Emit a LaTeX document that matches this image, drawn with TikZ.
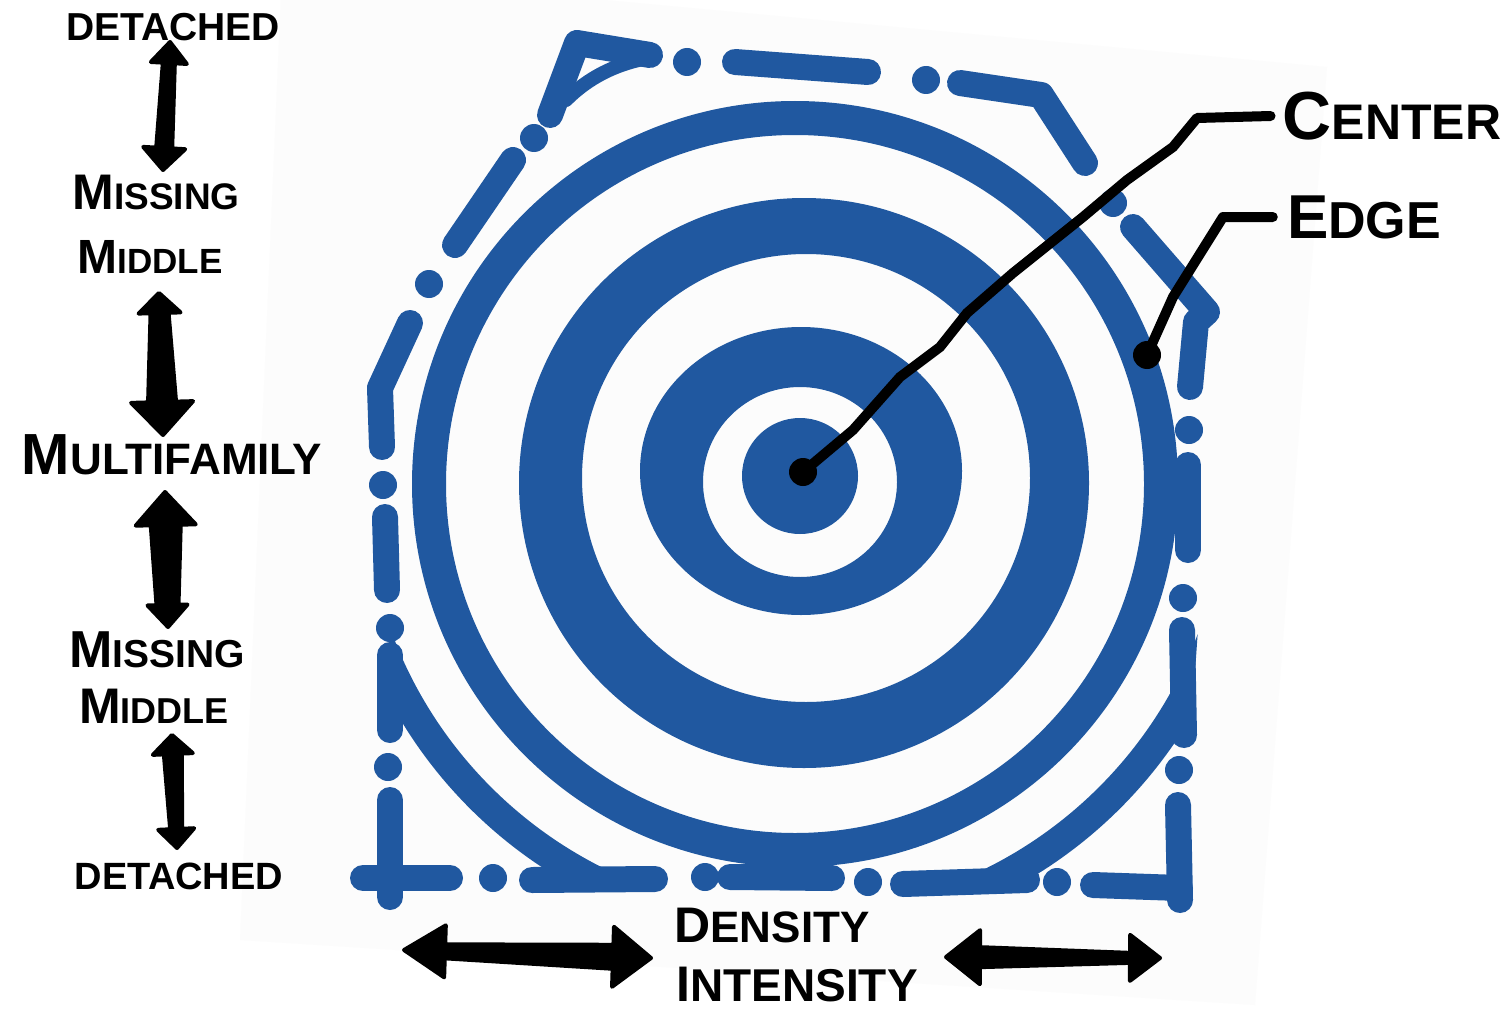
\documentclass[tikz,border=0pt]{standalone}
\usepackage{fontspec}
\setmainfont{Liberation Sans}
\usetikzlibrary{calc}
\definecolor{ringblue}{RGB}{32,88,160}
\definecolor{paper}{RGB}{252,252,252}
\newcommand{\tsz}[2]{{\fontsize{#1}{#1}\selectfont #2}}
% #1 tip a, #2 tip b, #3 shaft half width at a, #4 at b, #5 head half width at a, #6 head length at a, #7 head half width at b, #8 head length at b
\newcommand{\fatarrow}[8]{%
  \coordinate (#1-h) at ($(#1)!#6!(#2)$);
  \coordinate (#2-h) at ($(#2)!#8!(#1)$);
  \filldraw[fatarrowstyle] (#1) -- ($(#1-h)!#5!90:(#2)$) -- ($(#1-h)!#3!90:(#2)$)
    -- ($(#2-h)!#4!-90:(#1)$) -- ($(#2-h)!#7!-90:(#1)$) -- (#2)
    -- ($(#2-h)!#7!90:(#1)$) -- ($(#2-h)!#4!90:(#1)$)
    -- ($(#1-h)!#3!-90:(#2)$) -- ($(#1-h)!#5!-90:(#2)$) -- cycle;
}
\begin{document}
\begin{tikzpicture}[x=1pt,y=-1pt,
  lbl/.style={inner sep=0pt, text=black, font=\bfseries},
  fdash/.style={draw=ringblue, line width=26pt, line cap=round, line join=round},
  fdot/.style={fill=ringblue},
  leader/.style={draw=black, line width=10pt, line cap=round, line join=round},
  fatarrowstyle/.style={fill=black, draw=black, line width=4pt, line join=round}]

\useasboundingbox (0,0) rectangle (1509,1022);
\fill[white] (0,0) rectangle (1509,1022);
\fill[paper] (282,-30) -- (1327,67) -- (1255,1005) -- (240,940) -- cycle;

% rings
\fill[ringblue, even odd rule] (795,484) circle[radius=383pt] (795,484) circle[radius=349pt];
\fill[ringblue, even odd rule] (804,483) circle[radius=285pt] (806,478) circle[radius=224pt];
\fill[ringblue, even odd rule] (801,471) ellipse[x radius=161pt, y radius=144pt] (800,482) ellipse[x radius=97pt, y radius=95pt];
\fill[ringblue] (800,476) circle[radius=58pt];

% outer ring, visible only in the lower corners of the frame
\begin{scope}
  \clip (390,600) -- (1200,600) -- (1180,888) -- (390,880) -- cycle;
  \draw[ringblue, line width=30pt] (795,483) circle[radius=445pt];
\end{scope}
% small piece in the upper left corner
\draw[ringblue, line width=14pt, line cap=round] (648,58) .. controls (615,64) and (588,78) .. (566,100);

% dash-dot frame
\draw[fdash] (550,115) -- (577,43) -- (650,55);
\fill[fdot] (534,138) circle[radius=14pt];
\draw[fdash] (513,160) -- (455,245);
\fill[fdot] (429,284) circle[radius=14pt];
\draw[fdash] (410,323) -- (380,388) -- (382,447);
\fill[fdot] (383,485) circle[radius=14pt];
\draw[fdash] (385,517) -- (387,590);
\fill[fdot] (390,628) circle[radius=14pt];
\draw[fdash] (390,655) -- (390,730);
\fill[fdot] (388,767) circle[radius=14pt];
\draw[fdash] (390,800) -- (390,897);
\draw[fdash] (363,878) -- (450,878);
\fill[fdot] (493,878) circle[radius=14pt];
\draw[fdash] (532,880) -- (655,879);
\fill[fdot] (705,877) circle[radius=14pt];
\draw[fdash] (730,877) -- (832,878);
\fill[fdot] (868,882) circle[radius=14pt];
\draw[fdash] (903,884) -- (1027,880);
\fill[fdot] (1057,882) circle[radius=14pt];
\draw[fdash] (1093,885) -- (1180,888);
\draw[fdash] (1178,805) -- (1180,900);
\fill[fdot] (1179,770) circle[radius=14pt];
\draw[fdash] (1182,630) -- (1184,735);
\fill[fdot] (1183,598) circle[radius=14pt];
\draw[fdash] (1188,465) -- (1188,550);
\fill[fdot] (1189,430) circle[radius=14pt];
\draw[fdash] (1133,227) -- (1207,312) -- (1196,322) -- (1190,387);
\fill[fdot] (1113,203) circle[radius=14pt];
\draw[fdash] (960,83) -- (1041,95) -- (1085,163);
\fill[fdot] (926,80) circle[radius=14pt];
\draw[fdash] (735,62) -- (868,72);
\fill[fdot] (687,62) circle[radius=14pt];

% labels
\node[lbl] (det1)  at (173,27)  {\tsz{39}{DETACHED}};
\node[lbl] (miss1) at (156,192) {\tsz{50}{M}\tsz{37}{ISSING}};
\node[lbl] (mid1)  at (150,257) {\tsz{48}{M}\tsz{35}{IDDLE}};
\node[lbl] (multi) at (172,455) {\tsz{58}{M}\tsz{44}{ULTIFAMILY}};
\node[lbl] (miss2) at (157,650) {\tsz{52}{M}\tsz{39}{ISSING}};
\node[lbl] (mid2)  at (154,706) {\tsz{50}{M}\tsz{36}{IDDLE}};
\node[lbl] (det2)  at (179,876) {\tsz{38}{DETACHED}};
\node[lbl] (dens)  at (772,926) {\tsz{50}{D}\tsz{44}{ENSITY}};
\node[lbl] (inten) at (797,985) {\tsz{50}{I}\tsz{46}{NTENSITY}};
\node[lbl] (cent)  at (1392,116) {\tsz{68}{C}\tsz{50}{ENTER}};
\node[lbl] (edge)  at (1364,217) {\tsz{62}{E}\tsz{52}{DGE}};

% leaders
\coordinate (cdot) at (803,472);
\coordinate (edot) at (1147,355);
\draw[leader] (cdot) -- (853,430) -- (900,377) -- (940,347) -- (967,313) -- (1013,273) -- (1083,217) -- (1127,180) -- (1173,147) -- (1197,118) -- ($(cent.west)+(-12,0)$);
\fill[black] (cdot) circle[radius=14pt];
\draw[leader] (edot) -- (1173,297) -- (1223,217) -- ($(edge.west)+(-14,0)$);
\fill[black] (edot) circle[radius=14pt];

% fat double arrows
\coordinate (a1t) at (170,42);  \coordinate (a1b) at (163,170);
\coordinate (a2t) at (159,293); \coordinate (a2b) at (163,435);
\coordinate (a3t) at (165,492); \coordinate (a3b) at (168,627);
\coordinate (a4t) at (172,735); \coordinate (a4b) at (177,848);
\coordinate (h1l) at (404,950); \coordinate (h1r) at (651,958);
\coordinate (h2l) at (946,957); \coordinate (h2r) at (1160,958);
\fatarrow{a1t}{a1b}{6pt}{8pt}{18pt}{21pt}{21pt}{22pt}
\fatarrow{a2t}{a2b}{9pt}{14pt}{21pt}{20pt}{31pt}{33pt}
\fatarrow{a3t}{a3b}{15pt}{11pt}{30pt}{33pt}{20pt}{22pt}
\fatarrow{a4t}{a4b}{9pt}{6pt}{20pt}{19pt}{18pt}{19pt}
\fatarrow{h1l}{h1r}{7pt}{12pt}{26pt}{41pt}{30pt}{38pt}
\fatarrow{h2l}{h2r}{10pt}{5pt}{27pt}{34pt}{23pt}{30pt}
\end{tikzpicture}
\end{document}
